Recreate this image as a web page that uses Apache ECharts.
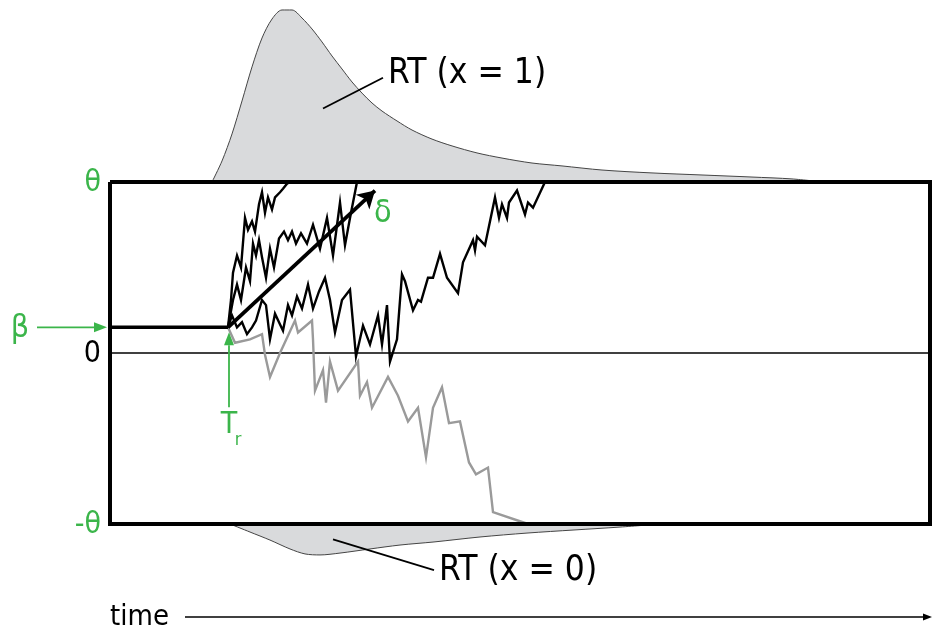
<!DOCTYPE html>
<html>
<head>
<meta charset="utf-8">
<script src="https://cdn.jsdelivr.net/npm/echarts@6/dist/echarts.min.js"></script>
<style>
html,body{margin:0;padding:0;background:#fff;}
#c{width:933px;height:631px;}
</style>
</head>
<body>
<div id="c"></div>
<script>
// ---- model parameters (time in ms, evidence in units of theta) ----
const THETA = 1;
const BETA = 0.15;
const T_R = 118;
const T_END = 820;
const DELTA_END = [265, 0.95];

// ---- boundary tick labels ----
const yTickValues = [THETA, 0, -THETA];
const yTickTexts = ['θ', '0', '-θ'];
const yTickGreen = [true, false, true];

// ---- sample paths [time, evidence] ----
const pathA = [[118,0.15],[121,0.31],[123,0.47],[127,0.57],[131,0.50],[135,0.79],[138,0.72],[142,0.77],[145,0.71],[149,0.87],[152,0.94],[155,0.82],[158,0.91],[162,0.84],[165,0.91],[170,0.94],[173,0.96],[177,0.99],[180,1.0]];
const pathB = [[118,0.15],[123,0.31],[127,0.40],[131,0.31],[136,0.50],[140,0.42],[143,0.64],[146,0.57],[149,0.66],[152,0.56],[156,0.44],[160,0.61],[164,0.50],[169,0.67],[174,0.71],[178,0.66],[182,0.71],[186,0.64],[191,0.70],[197,0.64],[203,0.75],[210,0.61],[217,0.79],[223,0.57],[230,0.88],[235,0.63],[240,0.79],[247,1.0]];
const pathD = [[118,0.15],[122,0.22],[127,0.15],[132,0.18],[137,0.11],[142,0.15],[146,0.19],[152,0.31],[156,0.28],[160,0.08],[165,0.23],[169,0.18],[173,0.13],[178,0.28],[182,0.22],[187,0.33],[192,0.26],[198,0.40],[203,0.26],[209,0.36],[215,0.44],[220,0.31],[225,0.12],[232,0.31],[240,0.37],[246,-0.02],[253,0.16],[260,0.05],[268,0.22],[272,0.05],[277,0.28],[280,-0.05],[287,0.08],[292,0.46],[295,0.42],[303,0.25],[308,0.31],[311,0.30],[318,0.44],[323,0.44],[330,0.58],[337,0.44],[348,0.35],[353,0.53],[363,0.66],[365,0.60],[367,0.68],[375,0.63],[385,0.91],[389,0.79],[392,0.87],[397,0.79],[399,0.88],[407,0.95],[415,0.81],[418,0.88],[423,0.85],[435,1.0]];
const pathE = [[118,0.15],[125,0.06],[140,0.08],[152,0.11],[155,-0.01],[160,-0.14],[170,0],[185,0.19],[188,0.12],[202,0.19],[203,0.08],[205,-0.22],[213,-0.10],[216,-0.29],[220,-0.05],[228,-0.22],[248,-0.05],[250,-0.25],[257,-0.17],[262,-0.32],[278,-0.14],[288,-0.25],[298,-0.40],[308,-0.32],[316,-0.61],[323,-0.32],[332,-0.20],[339,-0.41],[350,-0.40],[359,-0.64],[366,-0.71],[378,-0.67],[383,-0.93],[418,-1.0]];

// ---- RT distributions (drawn beyond the boundaries) ----
const rtUpper = [[102,1.0],[112,1.123],[122,1.281],[132,1.474],[142,1.673],[152,1.842],[162,1.953],[172,2.006],[182,2.006],[192,1.959],[202,1.895],[212,1.819],[222,1.737],[232,1.661],[242,1.585],[252,1.520],[262,1.462],[272,1.415],[287,1.357],[302,1.304],[322,1.251],[342,1.211],[367,1.170],[392,1.140],[422,1.111],[452,1.094],[492,1.070],[542,1.053],[592,1.041],[642,1.029],[682,1.018],[713,1.0]];
const rtLower = [[120,-1.0],[140,-1.047],[160,-1.094],[180,-1.146],[195,-1.175],[210,-1.181],[230,-1.170],[260,-1.146],[290,-1.123],[324,-1.105],[370,-1.076],[417,-1.053],[464,-1.035],[510,-1.018],[550,-1.0]];

const GREEN = '#3bb54a';
const FONT = "'Liberation Sans Narrow','DejaVu Sans Condensed','Liberation Sans',sans-serif";

const chart = echarts.init(document.getElementById('c'), null, {renderer:'canvas'});

function lineSeries(data, color, width, z){
  return {type:'line', data:data, symbol:'none', silent:true, z:z||2,
    lineStyle:{color:color, width:width, join:'miter'}, animation:false};
}

const option = {
  animation:false,
  grid:{left:110, right:1, top:2.45, bottom:4.4},
  xAxis:{type:'value', min:0, max:822, show:false},
  yAxis:{type:'value', min:-1.6, max:2.05, show:false},
  series:[
    {type:'line', data:rtUpper, smooth:0.3, symbol:'none', silent:true, z:1,
      lineStyle:{color:'#444', width:1}, areaStyle:{color:'#d9dadc', origin:THETA, opacity:1}},
    {type:'line', data:rtLower, smooth:0.3, symbol:'none', silent:true, z:1,
      lineStyle:{color:'#444', width:1}, areaStyle:{color:'#d9dadc', origin:-THETA, opacity:1}},
    lineSeries([[0,0],[T_END,0]], '#000', 1.5, 2),
    lineSeries(pathE, '#9a9a9a', 2.4, 2),
    lineSeries(pathA, '#000', 2.4, 3),
    lineSeries(pathB, '#000', 2.4, 3),
    lineSeries(pathD, '#000', 2.4, 3),
    lineSeries([[0,BETA],[T_R,BETA]], '#000', 3.5, 4),
    Object.assign(lineSeries([[0,THETA],[T_END,THETA],[T_END,-THETA],[0,-THETA],[0,THETA]], '#000', 4, 5), {
      markLine:{silent:true, symbol:['none','arrow'], symbolSize:[15,17], animation:false,
        label:{show:false}, lineStyle:{color:'#000', width:3.8, type:'solid'},
        data:[[{coord:[T_R,BETA]},{coord:DELTA_END}]]}
    })
  ]
};
chart.setOption(option);

function P(t,v){ return chart.convertToPixel({gridIndex:0},[t,v]); }

function arrow(x1,y1,x2,y2,color,w,hl,hw){
  const dx=x2-x1, dy=y2-y1, L=Math.sqrt(dx*dx+dy*dy), ux=dx/L, uy=dy/L;
  const bx=x2-ux*hl, by=y2-uy*hl;
  return [
    {type:'line', shape:{x1:x1,y1:y1,x2:bx,y2:by}, style:{stroke:color, lineWidth:w}, z:10},
    {type:'polygon', shape:{points:[[x2,y2],[bx-uy*hw,by+ux*hw],[bx+uy*hw,by-ux*hw]]}, style:{fill:color}, z:10}
  ];
}
function text(str,x,y,color,size,align){
  return {type:'text', x:x, y:y, z:10, style:{text:str, fill:color, fontSize:size, fontFamily:FONT,
    textAlign:align||'center', textVerticalAlign:'middle'}};
}

const g = [];
// boundary labels
yTickValues.forEach((v,i)=>{
  const p = P(0,v);
  g.push(text(yTickTexts[i], p[0]-9, p[1]+1, yTickGreen[i]?GREEN:'#000', 30, 'right'));
});
// beta arrow
const pb = P(0,BETA);
g.push(text('β', 20, pb[1]+1, GREEN, 32, 'center'));
g.push(...arrow(37, pb[1], pb[0]-3, pb[1], GREEN, 1.8, 13, 5));
// Tr arrow
const pt = P(T_R,BETA);
g.push(...arrow(pt[0]+1, pt[1]+80, pt[0]+1, pt[1]+5, GREEN, 1.8, 13, 5));
g.push(text('T', pt[0]+1, pt[1]+98, GREEN, 30, 'center'));
g.push(text('r', pt[0]+10, pt[1]+113, GREEN, 18, 'center'));
// delta label
const pd = P(DELTA_END[0],DELTA_END[1]);
g.push(text('δ', pd[0]-1, pd[1]+23, GREEN, 32, 'left'));
// RT labels with leader lines
const u1 = P(213,1.43), u2 = P(273,1.61);
g.push({type:'line', shape:{x1:u1[0],y1:u1[1],x2:u2[0],y2:u2[1]}, style:{stroke:'#000', lineWidth:1.8}, z:10});
g.push(text('RT (x = 1)', u2[0]+5, u2[1]-4, '#000', 35, 'left'));
const l1 = P(223,-1.09), l2 = P(324,-1.27);
g.push({type:'line', shape:{x1:l1[0],y1:l1[1],x2:l2[0],y2:l2[1]}, style:{stroke:'#000', lineWidth:1.8}, z:10});
g.push(text('RT (x = 0)', l2[0]+5, l2[1]+1, '#000', 35, 'left'));
// time arrow
g.push(text('time', 110, 617, '#000', 29, 'left'));
g.push(...arrow(185, 617, 932, 617, '#000', 1.5, 9, 3.5));

chart.setOption({graphic:g});
</script>
</body>
</html>
